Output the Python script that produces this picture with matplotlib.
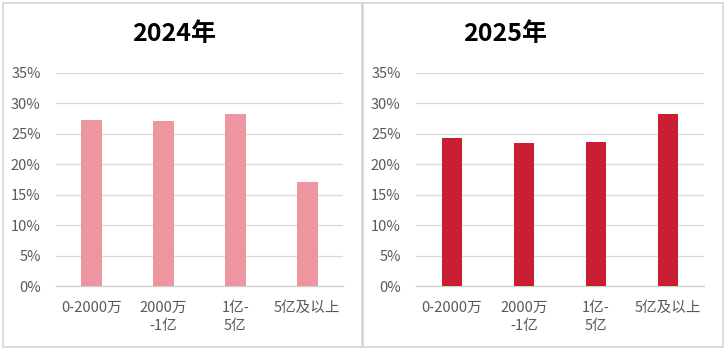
import matplotlib

matplotlib.use("Agg")
import matplotlib.pyplot as plt
from matplotlib.patches import Rectangle
from matplotlib.ticker import PercentFormatter

plt.rcParams["font.family"] = ["Noto Sans CJK SC", "DejaVu Sans"]

categories = ["0-2000万", "2000万\n-1亿", "1亿-\n5亿", "5亿及以上"]
values_2024 = [27.3, 27.1, 28.3, 17.1]
values_2025 = [24.3, 23.5, 23.7, 28.3]
titles = ["2024年", "2025年"]
colors = ["#EE96A0", "#C91F33"]

W, H = 726, 352


def px_axes(fig, x0, x1, y0, y1):
    # pixel box (top-left origin) -> figure fraction
    return fig.add_axes([x0 / W, (H - y1) / H, (x1 - x0) / W, (y1 - y0) / H])


def sub_plot(ax, values, color):
    x = range(len(categories))
    ax.bar(x, values, width=0.29, color=color, zorder=3)
    ax.set_xlim(-0.5, 3.5)
    ax.set_ylim(0, 35)
    ax.set_yticks(range(0, 36, 5))
    ax.yaxis.set_major_formatter(PercentFormatter(decimals=0))
    ax.set_xticks(list(x))
    ax.set_xticklabels(categories, linespacing=1.3)
    ax.grid(axis="y", color="#D9D9D9", linewidth=0.9, zorder=0)
    for s in ["top", "right", "left"]:
        ax.spines[s].set_visible(False)
    ax.spines["bottom"].set_color("#D0D0D0")
    ax.spines["bottom"].set_linewidth(1.0)
    ax.tick_params(length=0, labelsize=10.5, colors="#595959")
    ax.tick_params(axis="y", pad=11)
    ax.tick_params(axis="x", pad=11)
    for t in ax.get_xticklabels():
        t.set_verticalalignment("top")


fig = plt.figure(figsize=(W / 100, H / 100), dpi=100)

# panel borders
for x0, x1 in [(3, 362), (363, 723)]:
    fig.patches.append(
        Rectangle((x0 / W, 5 / H), (x1 - x0) / W, (H - 8) / H,
                  transform=fig.transFigure, fill=False,
                  edgecolor="#D4D4D4", linewidth=1.2)
    )

ax1 = px_axes(fig, 56, 343, 73, 286)
ax2 = px_axes(fig, 416, 704, 73, 286)
sub_plot(ax1, values_2024, colors[0])
sub_plot(ax2, values_2025, colors[1])

fig.text(174 / W, 1 - 34 / H, titles[0], ha="center", va="center",
         fontsize=18, fontweight="bold", color="black")
fig.text(505 / W, 1 - 34 / H, titles[1], ha="center", va="center",
         fontsize=18, fontweight="bold", color="black")

plt.savefig("out.png", dpi=100)
